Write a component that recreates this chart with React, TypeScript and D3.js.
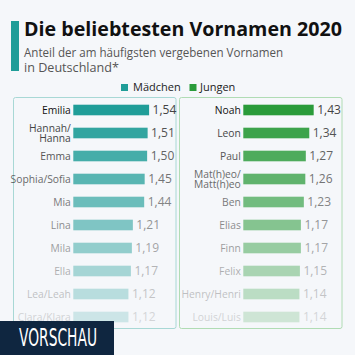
import React from "react";
import * as d3 from "d3";

const girlNames = ["Emilia", "Hannah/|Hanna", "Emma", "Sophia/Sofia", "Mia", "Lina", "Mila", "Ella", "Lea/Leah", "Clara/Klara"];
const girlValues = [1.54, 1.51, 1.5, 1.45, 1.44, 1.21, 1.19, 1.17, 1.12, 1.12];
const boyNames = ["Noah", "Leon", "Paul", "Mat(h)eo/|Matt(h)eo", "Ben", "Elias", "Finn", "Felix", "Henry/Henri", "Louis/Luis"];
const boyValues = [1.43, 1.34, 1.27, 1.26, 1.23, 1.17, 1.17, 1.15, 1.14, 1.14];
const legendLabels = ["Mädchen", "Jungen"];

const TEAL = "#1f9d98";
const GREEN = "#2a9b3a";
const BG = "#f5f7fa";
const FONT = "'Open Sans', 'Noto Sans', sans-serif";

const fmt = (v: number) => d3.format(".2f")(v).replace(".", ",");

function Panel({ names, values, color, border, x0, originX, y, xs }: any) {
  return (
    <g>
      <rect x={x0} y={97.5} width={162.5} height={231} rx={2} fill={BG} stroke={border} strokeWidth={1} />
      {names.map((n: string, i: number) => {
        const cy = (y(i) as number) + y.bandwidth() / 2;
        const op = 1 - i * 0.09;
        const lines = n.split("|");
        const w = xs(values[i]);
        return (
          <g key={i} opacity={op}>
            <rect x={originX} y={cy - 5.3} width={w} height={10.6} fill={color} />
            {lines.map((l, j) => (
              <text
                key={j}
                x={originX - 2.5}
                y={cy + (j - (lines.length - 1) / 2) * 10}
                dy="0.35em"
                textAnchor="end"
                fontSize={10.3}
                fill={i === 0 ? "#111" : "#333"}
                fontFamily={FONT}
              >
                {l}
              </text>
            ))}
            <text x={originX + w + 3.5} y={cy} dy="0.35em" fontSize={12} fill="#444" fontFamily={FONT}>
              {fmt(values[i])}
            </text>
          </g>
        );
      })}
    </g>
  );
}

export default function App() {
  const idx = d3.range(girlNames.length);
  const y = d3.scaleBand<number>().domain(idx).range([98.5, 328.5]).padding(0);
  const xs = d3.scaleLinear().domain([0, 1.54]).range([0, 75.8]);

  return (
    <svg
      width={355}
      height={355}
      style={{ position: "fixed", left: 0, top: 0, background: BG }}
      fontFamily={FONT}
    >
      <rect x={0} y={0} width={355} height={355} fill={BG} />
      <rect x={11} y={21} width={8} height={50} fill={TEAL} />
      <text x={24} y={36} fontSize={19.5} fontWeight={700} fill="#111" textLength={318} lengthAdjust="spacingAndGlyphs">
        Die beliebtesten Vornamen 2020
      </text>
      <text x={24} y={57} fontSize={12.6} fill="#555" textLength={259} lengthAdjust="spacingAndGlyphs">
        Anteil der am häufigsten vergebenen Vornamen
      </text>
      <text x={24} y={71.5} fontSize={12.6} fill="#555">
        in Deutschland*
      </text>

      <rect x={121} y={84} width={7} height={7} fill={TEAL} />
      <text x={133} y={87.5} dy="0.35em" fontSize={11} fill="#222">
        {legendLabels[0]}
      </text>
      <rect x={189.5} y={84} width={7} height={7} fill={GREEN} />
      <text x={200} y={87.5} dy="0.35em" fontSize={11} fill="#222">
        {legendLabels[1]}
      </text>

      <Panel names={girlNames} values={girlValues} color={TEAL} border="#a8d8d5" x0={13.5} originX={73.3} y={y} xs={xs} />
      <Panel names={boyNames} values={boyValues} color={GREEN} border="#b0dcb4" x0={179.5} originX={243.3} y={y} xs={xs} />

      <rect x={0} y={321} width={114} height={34} fill="#0f2640" />
      <text
        x={19}
        y={345.5}
        fontSize={24.5}
        fill="#fff"
        fontFamily="'Liberation Sans Narrow', 'DejaVu Sans Condensed', sans-serif"
        textLength={78}
        lengthAdjust="spacingAndGlyphs"
      >
        VORSCHAU
      </text>
    </svg>
  );
}
